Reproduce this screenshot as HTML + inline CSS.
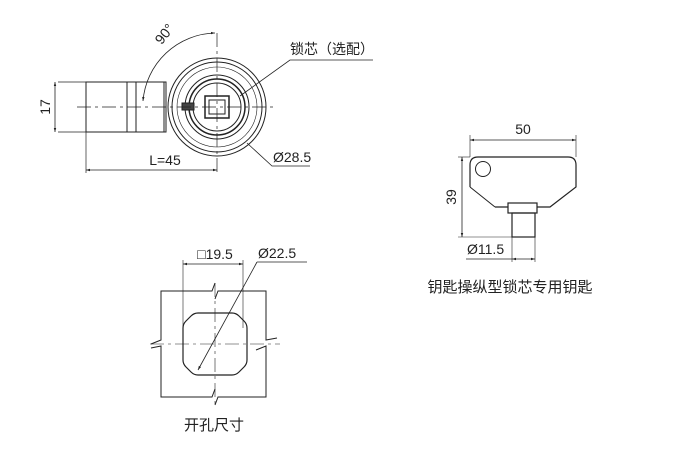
<!DOCTYPE html>
<html><head><meta charset="utf-8"><style>
html,body{margin:0;padding:0;background:#fff;}
svg text{font-family:"Liberation Sans","Noto Sans CJK SC",sans-serif;fill:#222;}
</style></head><body>
<svg width="690" height="454" viewBox="0 0 690 454" xmlns="http://www.w3.org/2000/svg">
<defs><marker id="a" viewBox="0 0 10 10" refX="10" refY="5" markerWidth="7" markerHeight="5" orient="auto-start-reverse"><path d="M0,2 L10,5 L0,8z" fill="#222"/></marker></defs>
<g stroke="#222" fill="none" stroke-width="1">
<!-- top view -->
<rect x="86" y="82" width="80" height="50"/>
<line x1="127" y1="82" x2="127" y2="132"/><line x1="136" y1="82" x2="136" y2="132"/><line x1="164" y1="82" x2="164" y2="132"/>
<circle cx="217" cy="107" r="49" fill="#fff"/>
<circle cx="217" cy="107" r="45"/>
<circle cx="217" cy="107" r="40" stroke-width="0.6"/>
<circle cx="217" cy="107" r="32"/>
<circle cx="217" cy="107" r="28" stroke-width="1.5"/>
<circle cx="217" cy="107" r="24"/>
<rect x="205" y="96" width="24" height="22" stroke-width="1.5"/>
<rect x="209" y="100" width="16" height="14"/>
<rect x="182" y="103" width="12" height="7" fill="#444"/>
<line x1="77" y1="107" x2="273" y2="107" stroke-dasharray="14,4,3,4" stroke-width="0.7"/>
<line x1="217" y1="33" x2="217" y2="172" stroke-dasharray="14,4,3,4" stroke-width="0.7"/>
<path d="M215,33 A74,74 0 0 0 143,101" marker-start="url(#a)" marker-end="url(#a)" stroke-width="0.8"/>
<line x1="58" y1="82" x2="86" y2="82" stroke-width="0.7"/><line x1="58" y1="132" x2="86" y2="132" stroke-width="0.7"/>
<line x1="55" y1="82" x2="55" y2="132" marker-start="url(#a)" marker-end="url(#a)" stroke-width="0.8"/>
<line x1="86" y1="132" x2="86" y2="173" stroke-width="0.7"/>
<line x1="86" y1="170" x2="217" y2="170" marker-start="url(#a)" marker-end="url(#a)" stroke-width="0.8"/>
<polyline points="247,143 272,166 310,166" stroke-width="0.8"/>
<polyline points="240,96 290,60 373,60" stroke-width="0.8"/>
<!-- cutout -->
<path d="M151,344 L161,340 V291 H212 L215,283"/>
<path d="M215,299 L218,291 H266 V340 L277,338"/>
<path d="M256,350 L266,346 V397 H218 L215,405"/>
<path d="M215,389 L212,397 H161 V346 L151,348"/>
<path d="M198,313 H232 Q236,313 239,316 L244,321 Q247,324 247,328 V360 Q247,364 244,367 L239,372 Q236,375 232,375 H198 Q194,375 191,372 L186,367 Q183,364 183,360 V328 Q183,324 186,321 L191,316 Q194,313 198,313 Z" stroke-width="1.2"/>
<line x1="150" y1="344" x2="280" y2="344" stroke-dasharray="14,4,3,4" stroke-width="0.6"/>
<line x1="215" y1="283" x2="215" y2="405" stroke-dasharray="14,4,3,4" stroke-width="0.6"/>
<line x1="183" y1="260" x2="183" y2="328" stroke-width="0.6"/><line x1="243" y1="260" x2="243" y2="328" stroke-width="0.6"/>
<line x1="183" y1="264" x2="243" y2="264" marker-start="url(#a)" marker-end="url(#a)" stroke-width="0.8"/>
<line x1="198" y1="370" x2="257" y2="262" marker-start="url(#a)" stroke-width="0.8"/>
<line x1="257" y1="262" x2="307" y2="262" stroke-width="0.8"/>
<!-- key -->
<path d="M470,187 V165 Q470,157 478,157 H568 Q576,157 576,165 V187 L550,207 H537 M508,207 H495 Z" stroke-width="1.2"/>
<path d="M495,207 L470,187"/>
<circle cx="483" cy="169" r="7.5"/>
<rect x="508" y="203" width="29" height="10" stroke-width="1.2"/>
<rect x="512" y="213" width="23" height="24" stroke-width="1.2"/>
<line x1="470" y1="135" x2="470" y2="157" stroke-width="0.6"/><line x1="576" y1="135" x2="576" y2="157" stroke-width="0.6"/>
<line x1="470" y1="140" x2="576" y2="140" marker-start="url(#a)" marker-end="url(#a)" stroke-width="0.8"/>
<line x1="458" y1="157" x2="470" y2="157" stroke-width="0.6"/><line x1="458" y1="237" x2="512" y2="237" stroke-width="0.6"/>
<line x1="462" y1="157" x2="462" y2="237" marker-start="url(#a)" marker-end="url(#a)" stroke-width="0.8"/>
<line x1="512" y1="237" x2="512" y2="262" stroke-width="0.6"/><line x1="535" y1="237" x2="535" y2="262" stroke-width="0.6"/>
<line x1="466" y1="259" x2="512" y2="259" stroke-width="0.8"/>
<line x1="512" y1="259" x2="535" y2="259" marker-start="url(#a)" marker-end="url(#a)" stroke-width="0.8"/>
</g>
<g font-size="14">
<text x="162" y="50" transform="rotate(-52 157 48)">90°</text>
<text x="50" y="112" transform="rotate(-90 50 107)" text-anchor="middle" dy="-5">17</text>
<text x="165" y="165" text-anchor="middle">L=45</text>
<text x="273" y="162">Ø28.5</text>
<text x="290" y="54">锁芯（选配）</text>
<text x="215" y="259" text-anchor="middle">□19.5</text>
<text x="258" y="258">Ø22.5</text>
<text x="214" y="430" text-anchor="middle" font-size="15">开孔尺寸</text>
<text x="523" y="134" text-anchor="middle">50</text>
<text x="456" y="197" transform="rotate(-90 456 197)" text-anchor="middle">39</text>
<text x="467" y="254">Ø11.5</text>
<text x="510" y="292" text-anchor="middle" font-size="15">钥匙操纵型锁芯专用钥匙</text>
</g>
</svg>
</body></html>
